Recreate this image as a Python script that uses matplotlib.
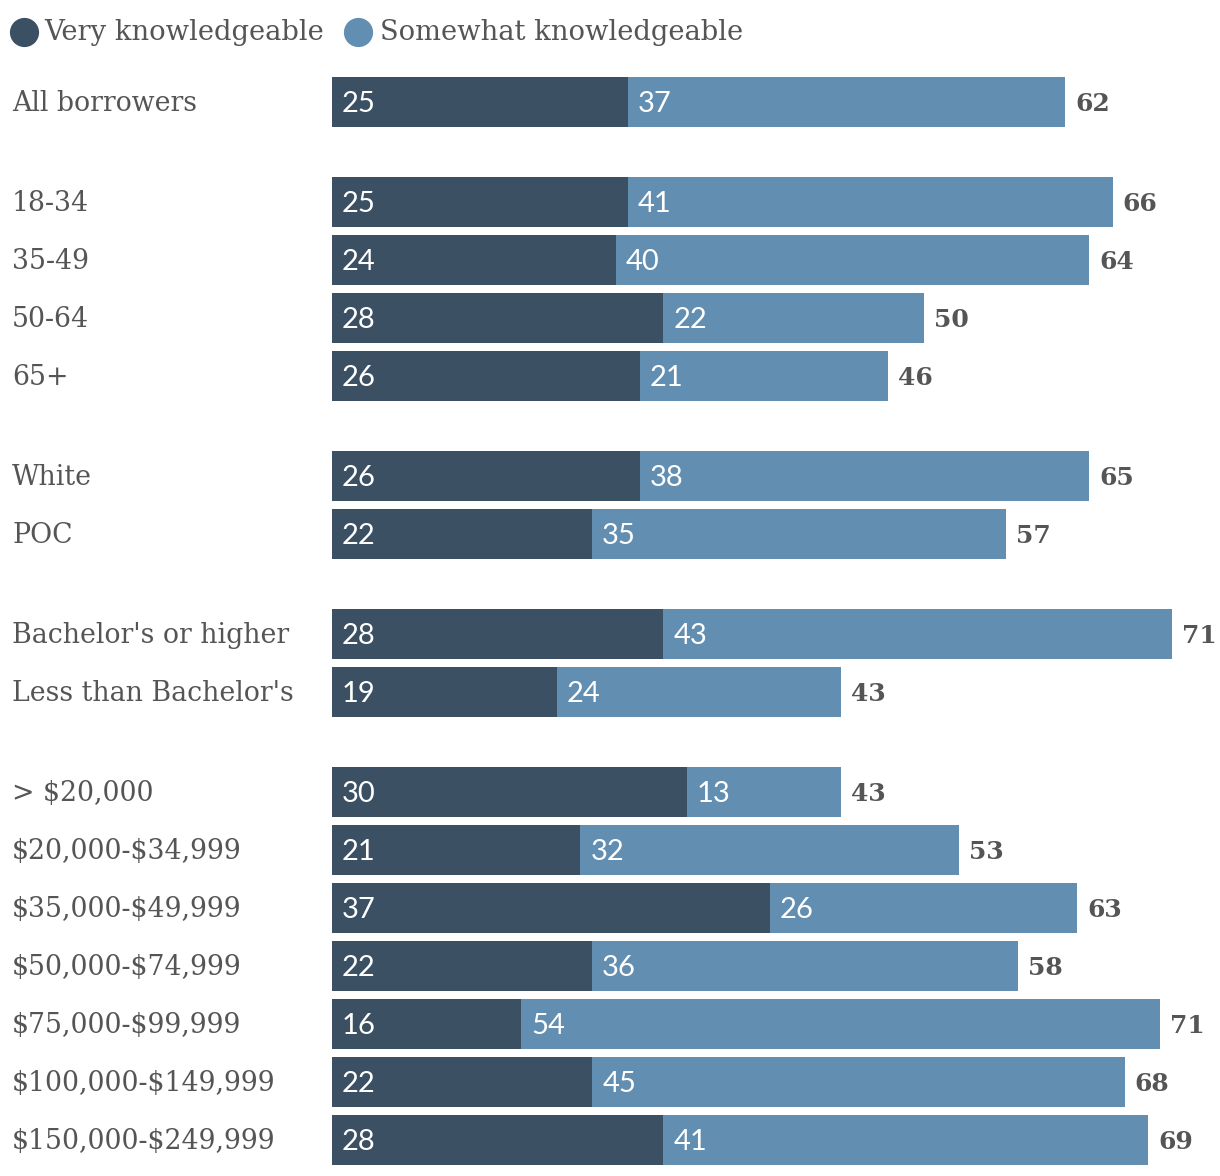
import numpy as np
import matplotlib
import matplotlib.pyplot as plt
from matplotlib.lines import Line2D
import matplotlib.transforms as mtransforms

matplotlib.use('Agg')

# data
categories = ["All borrowers",
              "18-34", "35-49", "50-64", "65+",
              "White", "POC",
              "Bachelor's or higher", "Less than Bachelor's",
              "> $20,000", "$20,000-$34,999", "$35,000-$49,999", "$50,000-$74,999",
              "$75,000-$99,999", "$100,000-$149,999", "$150,000-$249,999"]
groups = [0, 1, 1, 1, 1, 2, 2, 3, 3, 4, 4, 4, 4, 4, 4, 4]
very = [25, 25, 24, 28, 26, 26, 22, 28, 19, 30, 21, 37, 22, 16, 22, 28]
somewhat = [37, 41, 40, 22, 21, 38, 35, 43, 24, 13, 32, 26, 36, 54, 45, 41]
totals = [62, 66, 64, 50, 46, 65, 57, 71, 43, 43, 53, 63, 58, 71, 68, 69]
series_names = ["Very knowledgeable", "Somewhat knowledgeable"]

DARK = '#3c5063'
LIGHT = '#628eb1'
GREY = '#555555'
LABEL_FONT = 'DejaVu Serif'
NUM_FONT = 'Lato'

W, H = 1220, 1176
fig = plt.figure(figsize=(W / 100, H / 100), dpi=100)

# axes occupies x 332..1220 px, y 60..1176 px
ax = fig.add_axes([332 / W, 0, (W - 332) / W, (H - 60) / H])
px_per_unit = 11.83
ax.set_xlim(0, (W - 332) / px_per_unit)

gap = 42 / 58
ypos = np.arange(len(categories)) + np.array(groups) * gap
ax.set_ylim((H - 102) / 58, (60 - 102) / 58)
bar_h = 50 / 58

ax.barh(ypos, very, height=bar_h, color=DARK, linewidth=0)
ax.barh(ypos, somewhat, left=very, height=bar_h, color=LIGHT, linewidth=0)

off = 10 / px_per_unit
for y, v, s, t in zip(ypos, very, somewhat, totals):
    ax.text(off, y + 0.03, str(v), va='center', ha='left', color='white',
            fontsize=21, family=NUM_FONT)
    ax.text(v + off, y + 0.03, str(s), va='center', ha='left', color='white',
            fontsize=21, family=NUM_FONT)
    ax.text(v + s + off, y + 0.03, str(t), va='center', ha='left', color=GREY,
            fontsize=18, family=LABEL_FONT, fontweight='bold')

trans = mtransforms.blended_transform_factory(fig.transFigure, ax.transData)
for y, c in zip(ypos, categories):
    ax.text(12 / W, y + 0.02, c, transform=trans, va='center', ha='left',
            color=GREY, fontsize=19.3, family=LABEL_FONT, parse_math=False)

ax.axis('off')

# legend
ly = 1 - 32 / H
for xc, xt, col, name in [(24, 44, DARK, series_names[0]), (358, 380, LIGHT, series_names[1])]:
    fig.add_artist(Line2D([xc / W], [ly], marker='o', markersize=20,
                          color=col, linestyle='none', transform=fig.transFigure))
    fig.text(xt / W, ly, name, va='center', ha='left', color=GREY,
             fontsize=19.7, family=LABEL_FONT)

fig.savefig('out.png', dpi=100, facecolor='white')
